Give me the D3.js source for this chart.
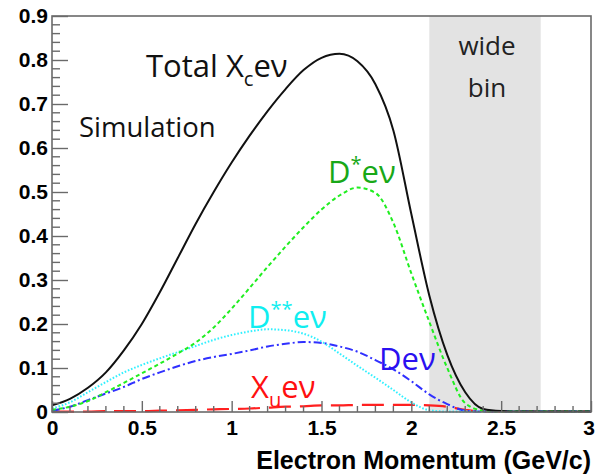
<!DOCTYPE html>
<html>
<head>
<meta charset="utf-8">
<script src="https://cdn.jsdelivr.net/npm/d3@7"></script>
<style>
  html, body { margin: 0; padding: 0; background: #fff; }
  svg { display: block; }
</style>
</head>
<body>
<svg id="chart" width="595" height="475"></svg>
<script>
// Electron momentum grid (GeV/c)
const momentum = d3.range(0, 31).map(i => +(i * 0.1).toFixed(1));

// Simulated spectra, one value per momentum point
const totalXc = [0.015, 0.030, 0.055, 0.090, 0.140, 0.200, 0.272, 0.350, 0.428, 0.500,
                 0.567, 0.628, 0.684, 0.734, 0.777, 0.805, 0.814, 0.797, 0.745, 0.640,
                 0.450, 0.265, 0.130, 0.045, 0.007, 0.002, 0.001, 0.001, 0.001, 0.001, 0.001];
const dStar   = [0.005, 0.012, 0.025, 0.045, 0.066, 0.088, 0.110, 0.133, 0.158, 0.192,
                 0.235, 0.282, 0.330, 0.376, 0.420, 0.460, 0.492, 0.510, 0.498, 0.430,
                 0.315, 0.205, 0.100, 0.020, 0.003, 0.001, 0.001, 0.001, 0.001, 0.001, 0.001];
const dStarStar = [0.008, 0.022, 0.045, 0.068, 0.090, 0.107, 0.122, 0.136, 0.150, 0.164,
                 0.175, 0.183, 0.188, 0.186, 0.178, 0.160, 0.133, 0.105, 0.078, 0.050,
                 0.022, 0.004, 0.001, 0.001, 0.001, 0.001, 0.001, 0.001, 0.001, 0.001, 0.001];
const dPlain  = [0.003, 0.012, 0.027, 0.042, 0.057, 0.075, 0.090, 0.104, 0.116, 0.125,
                 0.132, 0.140, 0.149, 0.155, 0.159, 0.157, 0.149, 0.137, 0.118, 0.097,
                 0.070, 0.040, 0.018, 0.003, 0.001, 0.001, 0.001, 0.001, 0.001, 0.001, 0.001];
const xuLnu   = [0.001, 0.001, 0.001, 0.002, 0.002, 0.002, 0.003, 0.004, 0.005, 0.006,
                 0.007, 0.008, 0.010, 0.012, 0.013, 0.015, 0.015, 0.016, 0.016, 0.016,
                 0.016, 0.015, 0.012, 0.005, 0.001, 0.001, 0.001, 0.001, 0.001, 0.001, 0.001];

// Shaded wide bin (GeV/c)
const wideBin = [2.1, 2.72];

// Tick labels
const xTickValues = [0, 0.5, 1, 1.5, 2, 2.5, 3];
const xTickLabels = ["0", "0.5", "1", "1.5", "2", "2.5", "3"];
const yTickValues = [0, 0.1, 0.2, 0.3, 0.4, 0.5, 0.6, 0.7, 0.8, 0.9];
const yTickLabels = ["0", "0.1", "0.2", "0.3", "0.4", "0.5", "0.6", "0.7", "0.8", "0.9"];

const svg = d3.select("#chart");
const plotL = 52, plotR = 591, plotT = 16, plotB = 412;

const x = d3.scaleLinear().domain([0, 3]).range([plotL, plotR]);
const y = d3.scaleLinear().domain([0, 0.9]).range([plotB, plotT]);

svg.append("defs").append("clipPath").attr("id", "plotClip")
  .append("rect").attr("x", plotL).attr("y", plotT).attr("width", plotR - plotL).attr("height", plotB - plotT + 1);

// wide bin band
svg.append("rect")
  .attr("x", x(wideBin[0])).attr("y", y(0.9))
  .attr("width", x(wideBin[1]) - x(wideBin[0]))
  .attr("height", y(0) - y(0.9))
  .attr("fill", "#e3e3e3");

const series = [
  { values: xuLnu,     color: "#ff2020", dash: "22,9",    width: 2.2 },
  { values: dPlain,    color: "#3030ff", dash: "8,3,2,3", width: 2 },
  { values: dStarStar, color: "#30f0ff", dash: "1.6,1.8", width: 2 },
  { values: dStar,     color: "#20ee20", dash: "4,3",     width: 2 },
  { values: totalXc,   color: "#111111", dash: null,      width: 2 }
];

const line = d3.line()
  .x((d, i) => x(momentum[i]))
  .y(d => y(d))
  .curve(d3.curveMonotoneX);

const curves = svg.append("g").attr("clip-path", "url(#plotClip)");
series.forEach(s => {
  curves.append("path")
    .attr("d", line(s.values))
    .attr("fill", "none")
    .attr("stroke", s.color)
    .attr("stroke-width", s.width)
    .attr("stroke-dasharray", s.dash);
});

// frame
const frameColor = "#6a6a6a";
svg.append("rect")
  .attr("x", plotL).attr("y", plotT)
  .attr("width", plotR - plotL).attr("height", plotB - plotT)
  .attr("fill", "none").attr("stroke", frameColor).attr("stroke-width", 1.6);

const tickFont = "'Liberation Sans', Arial, sans-serif";

// x axis ticks pointing into the plot
const xAxis = d3.axisBottom(x)
  .tickValues(xTickValues)
  .tickFormat((d, i) => xTickLabels[i])
  .tickSizeInner(-11).tickSizeOuter(0).tickPadding(8);
const gx = svg.append("g").attr("transform", `translate(0,${plotB})`).call(xAxis);
gx.select(".domain").remove();
gx.selectAll(".tick line").attr("stroke", frameColor).attr("stroke-width", 1.4);
gx.selectAll(".tick text")
  .attr("font-family", tickFont)
  .attr("font-weight", "bold").attr("font-size", 21).attr("fill", "#000")
  .attr("dx", d => d === 3 ? -2.5 : 0);
const xMinor = d3.range(0, 31).map(i => i * 0.1).filter(v => Math.abs(v * 2 - Math.round(v * 2)) > 1e-6);
svg.append("g").selectAll("line").data(xMinor).join("line")
  .attr("x1", d => x(d)).attr("x2", d => x(d))
  .attr("y1", plotB).attr("y2", plotB - 6)
  .attr("stroke", frameColor).attr("stroke-width", 1.4);

// y axis ticks pointing into the plot
const yAxis = d3.axisLeft(y)
  .tickValues(yTickValues)
  .tickFormat((d, i) => yTickLabels[i])
  .tickSizeInner(-16).tickSizeOuter(0).tickPadding(4);
const gy = svg.append("g").attr("transform", `translate(${plotL},0)`).call(yAxis);
gy.select(".domain").remove();
gy.selectAll(".tick line").attr("stroke", frameColor).attr("stroke-width", 1.4);
gy.selectAll(".tick text")
  .attr("font-family", tickFont)
  .attr("font-weight", "bold").attr("font-size", 21).attr("fill", "#000");
const yMinor = d3.range(0, 46).map(i => i * 0.02).filter(v => Math.abs(v * 10 - Math.round(v * 10)) > 1e-6);
svg.append("g").selectAll("line").data(yMinor).join("line")
  .attr("x1", plotL).attr("x2", plotL + 8)
  .attr("y1", d => y(d)).attr("y2", d => y(d))
  .attr("stroke", frameColor).attr("stroke-width", 1.4);

// axis title
svg.append("text")
  .attr("x", plotR).attr("y", 469)
  .attr("text-anchor", "end")
  .attr("font-family", tickFont)
  .attr("font-weight", "bold").attr("font-size", 25).attr("fill", "#000")
  .text("Electron Momentum (GeV/c)");

// annotations
const labelFont = "'Open Sans', sans-serif";
function label(xp, yp, size, color, parts) {
  const t = svg.append("text").attr("x", xp).attr("y", yp)
    .attr("font-family", labelFont).attr("font-size", size).attr("fill", color);
  parts.forEach(p => {
    const ts = t.append("tspan").text(p.text);
    if (p.sub) ts.attr("font-size", size * 0.65).attr("dy", size * 0.28);
    if (p.sup) ts.attr("font-size", size * 0.65).attr("dy", -size * 0.38);
    if (p.back) ts.attr("dy", p.back);
  });
  return t;
}

label(146, 77, 31, "#111", [{ text: "Total X" }, { text: "c", sub: true }, { text: "eν", back: -31 * 0.28 }]);
svg.append("text").attr("x", 79).attr("y", 137)
  .attr("font-family", labelFont).attr("font-size", 27.5).attr("fill", "#111").text("Simulation");
label(328, 183, 31, "#18a818", [{ text: "D" }, { text: "*", sup: true }, { text: "eν", back: 31 * 0.38 }]);
label(248, 328, 31, "#10eef0", [{ text: "D" }, { text: "**", sup: true }, { text: "eν", back: 31 * 0.38 }]);
label(379, 370, 31, "#2a10f0", [{ text: "Deν" }]);
label(251, 398, 31, "#ff1010", [{ text: "X" }, { text: "u", sub: true }, { text: "eν", back: -31 * 0.28 }]);

svg.append("text").attr("x", 487).attr("y", 55).attr("text-anchor", "middle")
  .attr("font-family", labelFont).attr("font-size", 26).attr("fill", "#222").text("wide");
svg.append("text").attr("x", 487).attr("y", 97).attr("text-anchor", "middle")
  .attr("font-family", labelFont).attr("font-size", 26).attr("fill", "#222").text("bin");
</script>
</body>
</html>
